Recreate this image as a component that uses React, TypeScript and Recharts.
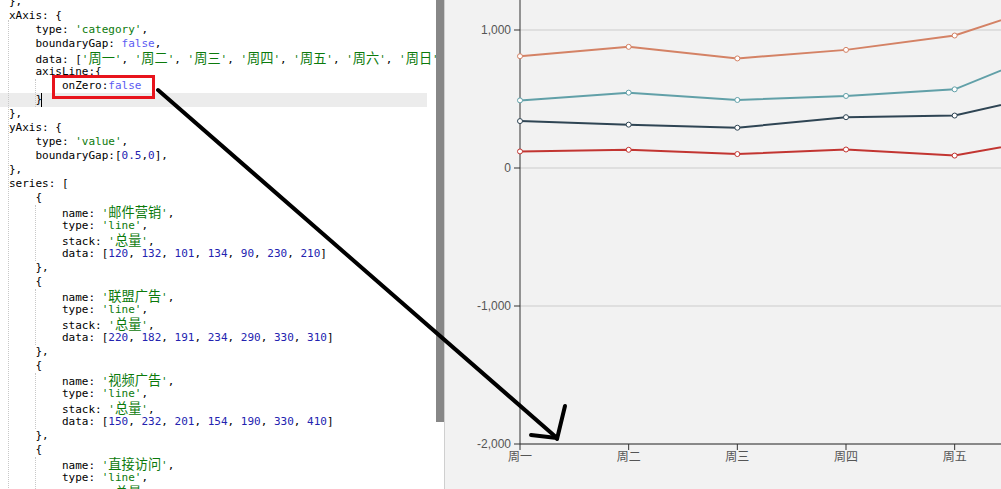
import React from 'react';
import { AreaChart, Area, XAxis, YAxis, CartesianGrid } from 'recharts';

// chart values
const days = ['周一', '周二', '周三', '周四', '周五', '周六', '周日'];
const emailMarketing = [120, 132, 101, 134, 90, 230, 210];
const allianceAds = [220, 182, 191, 234, 290, 330, 310];
const videoAds = [150, 232, 201, 154, 190, 330, 410];
const directVisits = [320, 332, 301, 334, 390, 330, 320];
const yTicks = [-2000, -1000, 0, 1000, 2000, 3000];

const seriesDefs = [
  { key: 'email', name: '邮件营销', values: emailMarketing, color: '#c23531' },
  { key: 'alliance', name: '联盟广告', values: allianceAds, color: '#2f4554' },
  { key: 'video', name: '视频广告', values: videoAds, color: '#61a0a8' },
  { key: 'direct', name: '直接访问', values: directVisits, color: '#d48265' },
];

const chartData = days.map((day, i) => {
  const row: Record<string, string | number> = { day };
  seriesDefs.forEach(s => { row[s.key] = s.values[i]; });
  return row;
});

const codeLines = [
  '},',
  'xAxis: {',
  "    type: 'category',",
  '    boundaryGap: false,',
  '    data: [' + days.map(d => `'${d}'`).join(', ') + ']',
  '    axisLine:{',
  '        onZero:false',
  '    }',
  '},',
  'yAxis: {',
  "    type: 'value',",
  '    boundaryGap:[0.5,0],',
  '},',
  'series: [',
  ...seriesDefs.flatMap((s, i) => {
    const block = [
      '    {',
      `        name: '${s.name}',`,
      "        type: 'line',",
      "        stack: '总量',",
      '        data: [' + s.values.join(', ') + ']',
      '    },',
    ];
    return i === seriesDefs.length - 1 ? block.slice(0, 4) : block;
  }),
];

function cjk(text: string) {
  return text.split(/([\u4e00-\u9fff]+)/).map((p, i) =>
    /[\u4e00-\u9fff]/.test(p)
      ? <span key={i} style={{ fontFamily: "'Noto Sans CJK SC'", fontSize: 13.2 }}>{p}</span>
      : p
  );
}

function renderLine(s: string) {
  const parts = s.split(/('[^']*'|\b\d+(?:\.\d+)?\b|\bfalse\b)/);
  return parts.map((p, i) => {
    if (!p) return null;
    if (p.startsWith("'")) return <span key={i} style={{ color: '#0b7a0b' }}>{cjk(p)}</span>;
    if (p === 'false') return <span key={i} style={{ color: '#5c5cf2' }}>{p}</span>;
    if (/^\d/.test(p)) return <span key={i} style={{ color: '#2323b0' }}>{p}</span>;
    return <span key={i}>{p}</span>;
  });
}

const fmt = (v: number) => v.toLocaleString('en-US');

export default function App() {
  return (
    <div style={{ position: 'fixed', left: 0, top: 0, width: 1001, height: 489, overflow: 'hidden', background: '#fff' }}>
      {/* editor pane */}
      <div style={{ position: 'absolute', left: 0, top: 0, width: 436, height: 489, overflow: 'hidden' }}>
        <div style={{ position: 'absolute', left: 0, top: 93, width: 427, height: 14, background: '#ececec' }} />
        <div style={{ position: 'absolute', left: 8, top: 20, height: 470, borderLeft: '1px dotted #c8c8c8' }} />
        <div style={{ position: 'absolute', left: 35, top: 79, height: 28, borderLeft: '1px dotted #c8c8c8' }} />
        {[205, 289, 373, 457].map(t => (
          <div key={t} style={{ position: 'absolute', left: 35, top: t, height: 56, borderLeft: '1px dotted #c8c8c8' }} />
        ))}
        <div style={{ position: 'absolute', left: 41, top: 93, width: 1, height: 14, background: '#000' }} />
        <div style={{ position: 'absolute', left: 9, top: -5, fontFamily: "'DejaVu Sans Mono', monospace", fontSize: 11, color: '#000' }}>
          {codeLines.map((l, i) => (
            <div key={i} style={{ height: 14, lineHeight: '14px', whiteSpace: 'pre' }}>{renderLine(l)}</div>
          ))}
        </div>
      </div>
      {/* scrollbar */}
      <div style={{ position: 'absolute', left: 436, top: 0, width: 8, height: 422, background: '#878787' }} />
      <div style={{ position: 'absolute', left: 444, top: 0, width: 1, height: 489, background: '#cfcfcf' }} />
      {/* chart pane */}
      <div style={{ position: 'absolute', left: 445, top: 0, width: 556, height: 489, background: '#f2f2f2' }} />
      <div style={{ position: 'absolute', left: 445, top: -256 }}>
        <AreaChart width={747} height={745} data={chartData} margin={{ top: 10, right: 20, left: 0, bottom: 0 }}>
          <CartesianGrid vertical={false} stroke="#cccccc" />
          <XAxis
            dataKey="day"
            height={45}
            interval={0}
            axisLine={{ stroke: '#333' }}
            tickLine={{ stroke: '#333' }}
            tick={{ fill: '#555', fontSize: 12, fontFamily: "'Liberation Sans', 'Noto Sans CJK SC', sans-serif" }}
          />
          <YAxis
            width={75}
            domain={[-2000, 3000]}
            ticks={yTicks}
            tickFormatter={fmt}
            axisLine={{ stroke: '#333' }}
            tickLine={{ stroke: '#333' }}
            tickMargin={3}
            tick={{ fill: '#555', fontSize: 12, fontFamily: "'Liberation Sans', sans-serif" }}
          />
          {seriesDefs.map(s => (
            <Area
              key={s.key}
              type="linear"
              dataKey={s.key}
              name={s.name}
              stackId="总量"
              stroke={s.color}
              strokeWidth={2}
              fill="none"
              fillOpacity={0}
              dot={{ r: 2.5, fill: '#fff', fillOpacity: 1, stroke: s.color, strokeWidth: 1 }}
              activeDot={false}
              isAnimationActive={false}
            />
          ))}
        </AreaChart>
      </div>
      {/* annotation */}
      <svg width={1001} height={489} style={{ position: 'absolute', left: 0, top: 0, pointerEvents: 'none' }}>
        <rect x={53.5} y={76.5} width={100} height={21} fill="none" stroke="#e8141c" strokeWidth={3} />
        <line x1={158} y1={90} x2={557} y2={438} stroke="#000" strokeWidth={4} strokeLinecap="round" />
        <line x1={531} y1={435} x2={557} y2={438} stroke="#000" strokeWidth={4} strokeLinecap="round" />
        <line x1={565} y1={406} x2={557} y2={439} stroke="#000" strokeWidth={4} strokeLinecap="round" />
      </svg>
    </div>
  );
}
